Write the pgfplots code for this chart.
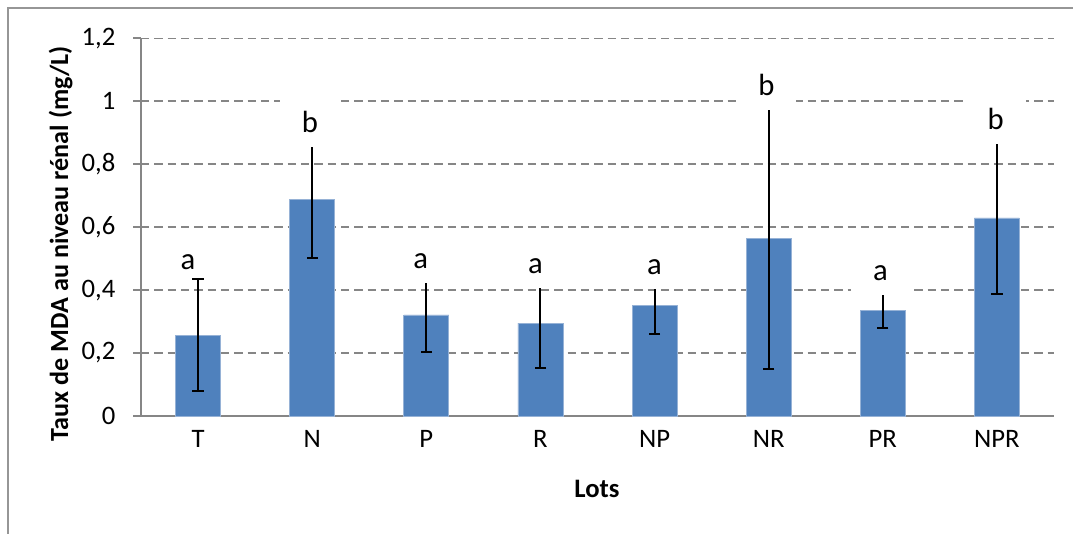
\documentclass[border=0pt]{standalone}
\usepackage{pgfplots}
\pgfplotsset{compat=1.18}
\usepackage{pgfplotstable}
\usepackage{fontspec}
\setmainfont{Carlito}
\definecolor{barblue}{RGB}{79,129,189}
\definecolor{baredge}{RGB}{150,178,214}
\definecolor{axgray}{RGB}{134,134,134}
\definecolor{framegray}{RGB}{150,150,150}
\tikzset{lbl/.style={anchor=base, fill=white, inner sep=0pt, text depth=10.9pt, text height=27pt, minimum width=45pt, font=\fontsize{23}{26}\selectfont}}
\pgfplotstableread{
x y e
0 0.257 0.178
1 0.689 0.187
2 0.321 0.119
3 0.295 0.141
4 0.350 0.088
5 0.564 0.415
6 0.336 0.057
7 0.629 0.241
}\data
\begin{document}
\begin{tikzpicture}[x=1pt,y=1pt]
\useasboundingbox (0,0) rectangle (804.75,400.5);
\draw[overlay, framegray, line width=1.3pt] (6,-10) -- (6,394.5) -- (820,394.5);
\begin{axis}[
  at={(105.75pt,88.5pt)}, anchor=south west,
  scale only axis, width=684.75pt, height=283.3pt,
  xmin=-0.5, xmax=7.5, ymin=0, ymax=1.2,
  clip=false,
  axis lines*=left,
  axis line style={axgray, line width=1.2pt, -},
  ytick={0,0.2,0.4,0.6,0.8,1,1.2},
  yticklabel style={xshift=-9.75pt, /pgf/number format/use comma, /pgf/number format/fixed, /pgf/number format/precision=1, /pgf/number format/assume math mode=true},
  ymajorgrids,
  grid style={axgray, dash pattern=on 6.2pt off 3.8pt, line width=1.1pt},
  tick align=outside,
  major tick length=6pt,
  minor tick length=6pt,
  ytick style={axgray, line width=1.2pt},
  xtick={0,...,7},
  xticklabels={T,N,P,R,NP,NR,PR,NPR},
  xticklabel style={yshift=-1.5pt},
  xtick style={draw=none},
  minor xtick={-0.5,0.5,1.5,2.5,3.5,4.5,5.5,6.5,7.5},
  minor x tick style={axgray, line width=1.2pt},
  ticklabel style={font=\fontsize{20}{23}\selectfont, text=black},
]
\addplot[ybar, bar width=33.75pt, fill=barblue, draw=baredge, line width=0.6pt] table[x=x,y=y]{\data};
\addplot[draw=none, mark=none, forget plot,
  error bars/.cd, y dir=both, y explicit,
  error bar style={draw=black, line width=1.5pt},
  error mark options={draw=black, line width=1.5pt, mark size=4.25pt, rotate=90}]
  table[x=x,y=y,y error=e]{\data};
\node[anchor=base, inner sep=0pt, font=\fontsize{23}{26}\selectfont] at (axis cs:-0.088,0.464) {a};
\node[lbl] at (axis cs:0.98,0.8995) {b};
\node[lbl] at (axis cs:1.95,0.470) {a};
\node[lbl] at (axis cs:2.956,0.453) {a};
\node[lbl] at (axis cs:4,0.451) {a};
\node[lbl] at (axis cs:4.98,1.018) {b};
\node[lbl] at (axis cs:5.98,0.431) {a};
\node[lbl] at (axis cs:6.99,0.910) {b};
\end{axis}
\node[rotate=90, anchor=base, font=\bfseries\fontsize{19.6}{22}\selectfont] at (51,217.9) {Taux de MDA au niveau rénal (mg/L)};
\node[anchor=base, font=\bfseries\fontsize{20}{23}\selectfont] at (447.75,27) {Lots};
\end{tikzpicture}
\end{document}
